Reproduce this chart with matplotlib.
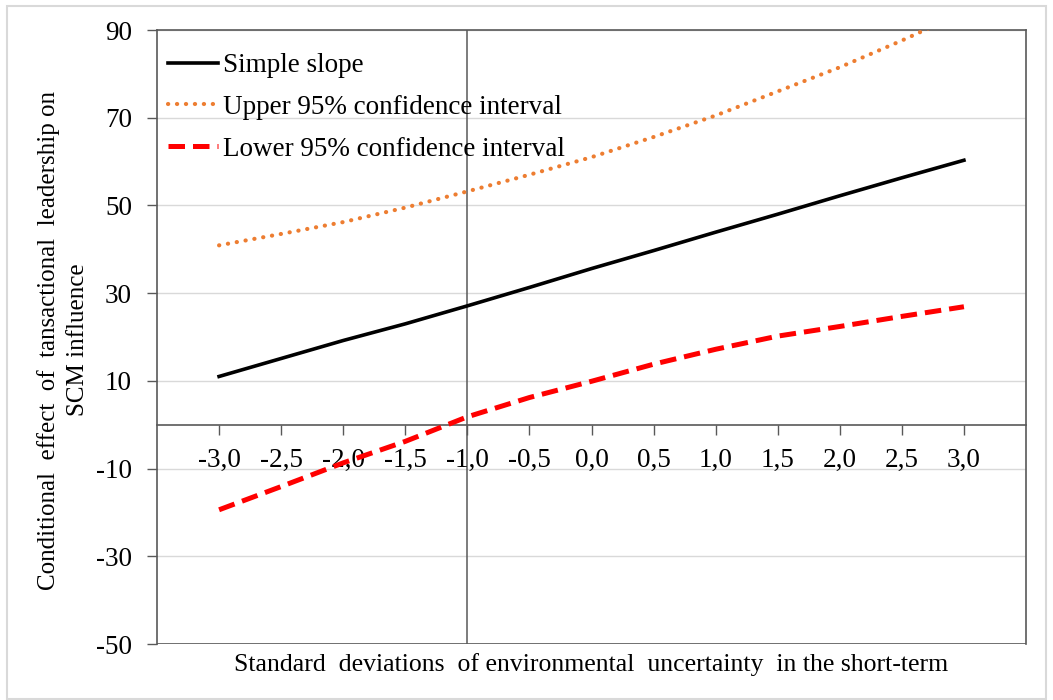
import matplotlib
matplotlib.use("Agg")
import matplotlib.pyplot as plt
from matplotlib.patches import Rectangle

plt.rcParams['font.family'] = ['Liberation Serif', 'DejaVu Serif']
plt.rcParams['axes.unicode_minus'] = False

# standard deviations of the moderator (category positions)
sd = [-3.0, -2.5, -2.0, -1.5, -1.0, -0.5, 0.0, 0.5, 1.0, 1.5, 2.0, 2.5, 3.0]
sd_labels = ['-3,0', '-2,5', '-2,0', '-1,5', '-1,0', '-0,5', '0,0',
             '0,5', '1,0', '1,5', '2,0', '2,5', '3,0']

# values
simple_slope = [11.0, 15.1, 19.2, 23.0, 27.1, 31.3, 35.6, 39.7, 43.9, 48.0, 52.2, 56.3, 60.3]
upper_ci = [40.9, 43.5, 46.2, 49.5, 53.2, 57.0, 61.0, 65.6, 70.5, 76.0, 81.5, 87.6, 94.1]
lower_ci = [-19.4, -14.1, -8.7, -3.8, 1.8, 6.2, 9.9, 13.8, 17.2, 20.2, 22.4, 24.7, 26.9]

y_ticks = [90, 70, 50, 30, 10, -10, -30, -50]

fig = plt.figure(figsize=(10.53, 7.0), dpi=100)
ax = fig.add_axes([157 / 1053, 1 - 644 / 700, (1026 - 157) / 1053, (644 - 30) / 700])

# outer light frame of the chart
fig.patches.append(Rectangle((7 / 1053, 1 / 700), 1039 / 1053, 693 / 700,
                             transform=fig.transFigure, fill=False,
                             edgecolor='#d9d9d9', linewidth=1.5))

dark = '#595959'

ax.set_xlim(-3.5, 3.5)
ax.set_ylim(min(y_ticks), max(y_ticks))

for y in y_ticks:
    ax.axhline(y, color='#d9d9d9', linewidth=1, zorder=0)

# vertical axis crossing at -1.0
ax.axvline(sd[4], color=dark, linewidth=1.1, zorder=1)
ax.axhline(min(y_ticks), color=dark, linewidth=1.2, zorder=1)

ax.plot(sd, simple_slope, color='black', linewidth=2.6, label='Simple slope', zorder=3)
ax.plot(sd, upper_ci, color='#ed7d31', linewidth=3.0, linestyle=(0, (0.05, 2.1)),
        dash_capstyle='round', label='Upper 95% confidence interval', zorder=3)
ax.plot(sd, lower_ci, color='#ff0000', linewidth=3.6, linestyle=(0, (3.3, 1.6)),
        label='Lower 95% confidence interval', zorder=3)

ax.spines['bottom'].set_position(('data', 0))
for s in ['left', 'right', 'top', 'bottom']:
    ax.spines[s].set_color(dark)
    ax.spines[s].set_linewidth(1.2)

ax.set_xticks(sd)
ax.set_xticklabels(sd_labels)
ax.set_yticks(y_ticks)
ax.tick_params(axis='x', direction='out', length=7, width=1, color=dark, pad=10, labelsize=19.5)
ax.tick_params(axis='y', direction='out', length=7, width=1, color=dark, pad=11, labelsize=19.5)

fig.text(63 / 1053, 1 - 340 / 700,
         'Conditional  effect  of  tansactional  leadership on\nSCM influence',
         rotation=90, ha='center', va='center', fontsize=18, linespacing=1.45,
         multialignment='center')
fig.text(591 / 1053, 1 - 665 / 700,
         'Standard  deviations  of environmental  uncertainty  in the short-term',
         ha='center', va='center', fontsize=18.5)

leg = ax.legend(loc='upper left', bbox_to_anchor=(0.0125, 0.9625), frameon=False,
                fontsize=19.5, handlelength=1.85, handletextpad=0.2,
                labelspacing=0.62, borderaxespad=0, borderpad=0)

fig.savefig('out.png', dpi=100)
